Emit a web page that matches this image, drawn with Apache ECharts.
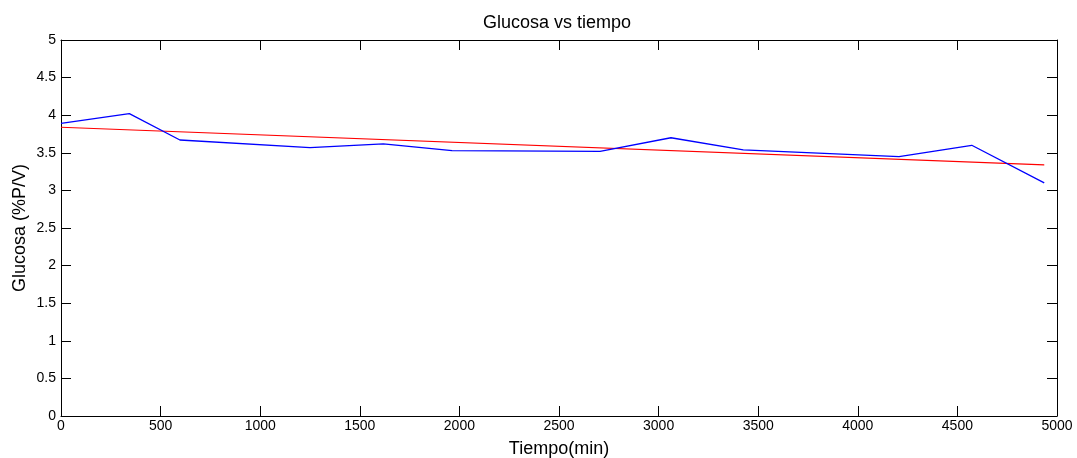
<!DOCTYPE html>
<html>
<head>
<meta charset="utf-8">
<script src="https://cdn.jsdelivr.net/npm/echarts@6/dist/echarts.min.js"></script>
<style>html,body{margin:0;padding:0;background:#fff}#c{width:1077px;height:458px}</style>
</head>
<body>
<div id="c"></div>
<script>
const tiempo = [0, 343, 597, 1250, 1618, 1963, 2706, 3062, 3425, 4207, 4572, 4936];
const glucosa = [3.89, 4.02, 3.67, 3.57, 3.62, 3.53, 3.52, 3.70, 3.54, 3.45, 3.60, 3.10];
const ajusteX = [0, 4936];
const ajusteY = [3.84, 3.34];
const xTicks = [0, 500, 1000, 1500, 2000, 2500, 3000, 3500, 4000, 4500, 5000];
const yTicks = [0, 0.5, 1, 1.5, 2, 2.5, 3, 3.5, 4, 4.5, 5];

const font = 'Liberation Sans, Arial, sans-serif';
const chart = echarts.init(document.getElementById('c'), null, {renderer: 'canvas'});
const axisCommon = {
  axisLine: {show: true, onZero: false, lineStyle: {color: '#000', width: 1}},
  axisTick: {show: true, inside: true, length: 10, lineStyle: {color: '#000', width: 1}},
  splitLine: {show: false}
};
chart.setOption({
  animation: false,
  title: {text: 'Glucosa vs tiempo', left: 552, textAlign: 'center', top: 9,
    textStyle: {fontFamily: font, fontSize: 18, fontWeight: 'normal', color: '#000'}},
  grid: {left: 61, right: 20, top: 40, bottom: 42, containLabel: false, outerBoundsMode: 'none'},
  xAxis: [
    Object.assign({type: 'value', position: 'bottom', min: 0, max: 5000, interval: 500,
      name: 'Tiempo(min)', nameLocation: 'middle', nameGap: 24, nameMoveOverlap: false,
      nameTextStyle: {fontFamily: font, fontSize: 18, color: '#000'},
      axisLabel: {fontFamily: font, fontSize: 14, color: '#000', margin: 3,
        formatter: v => xTicks.includes(v) ? String(v) : ''}}, axisCommon),
    Object.assign({type: 'value', position: 'top', min: 0, max: 5000, interval: 500,
      axisLabel: {show: false}}, axisCommon)
  ],
  yAxis: [
    Object.assign({type: 'value', position: 'left', min: 0, max: 5, interval: 0.5,
      name: 'Glucosa (%P/V)', nameLocation: 'middle', nameGap: 32, nameMoveOverlap: false,
      nameTextStyle: {fontFamily: font, fontSize: 18, color: '#000'},
      axisLabel: {fontFamily: font, fontSize: 14, color: '#000', margin: 5,
        formatter: v => yTicks.includes(v) ? String(v) : ''}}, axisCommon),
    Object.assign({type: 'value', position: 'right', min: 0, max: 5, interval: 0.5,
      axisLabel: {show: false}}, axisCommon)
  ],
  series: [
    {type: 'line', data: tiempo.map((t, i) => [t, glucosa[i]]), showSymbol: false,
      lineStyle: {color: '#0000ff', width: 1.3}, itemStyle: {color: '#0000ff'}, z: 3},
    {type: 'line', data: ajusteX.map((t, i) => [t, ajusteY[i]]), showSymbol: false,
      lineStyle: {color: '#ff0000', width: 1.1}, itemStyle: {color: '#ff0000'}, z: 2}
  ]
});
</script>
</body>
</html>
